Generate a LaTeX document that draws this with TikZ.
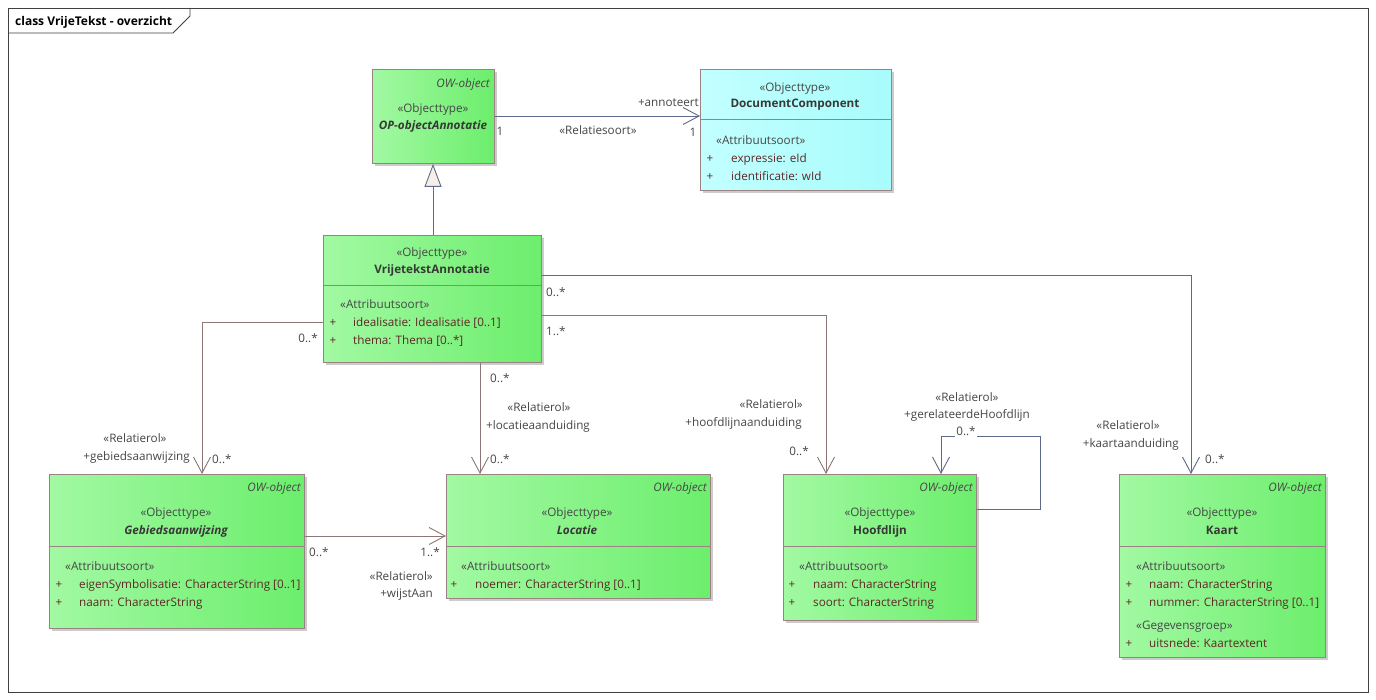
\documentclass[tikz,border=0pt]{standalone}
\usepackage{fontspec}
\setmainfont{Open Sans}
\usetikzlibrary{arrows.meta,shadows}
\definecolor{gL}{HTML}{A2F9A2}
\definecolor{gR}{HTML}{6CEE6C}
\definecolor{cyL}{HTML}{C2FFFF}
\definecolor{cyR}{HTML}{A8FCFC}
\definecolor{bord}{HTML}{9A8282}
\definecolor{linB}{HTML}{5E6A8C}
\definecolor{linR}{HTML}{8E7676}
\definecolor{txt}{HTML}{464646}
\definecolor{nameC}{HTML}{383838}
\definecolor{attrC}{HTML}{5E2828}
\definecolor{tri}{HTML}{F8EEE8}
\begin{document}
\begin{tikzpicture}[x=1pt,y=-1pt,
  font=\fontsize{11.7}{13}\selectfont,
  shadowed/.style={drop shadow={shadow xshift=3pt,shadow yshift=-3pt,fill=black!20,opacity=1}},
  box/.style={draw=bord,line width=0.9pt,left color=gL,right color=gR,anchor=north west,inner sep=0pt,shadowed},
  cbox/.style={draw=bord,line width=0.9pt,left color=cyL,right color=cyR,anchor=north west,inner sep=0pt,shadowed},
  divl/.style={draw=bord,line width=0.9pt},
  lbl/.style={inner sep=0pt,text=txt,text height=10.5pt,text depth=0pt},
  owlbl/.style={lbl,anchor=east,font=\fontsize{11.7}{13}\selectfont\itshape},
  stc/.style={lbl},
  nm/.style={lbl,text=nameC,font=\fontsize{11.7}{13}\selectfont\bfseries},
  nmi/.style={lbl,text=nameC,font=\fontsize{11.7}{13}\selectfont\bfseries\itshape},
  stl/.style={lbl,anchor=west},
  atr/.style={lbl,anchor=west,text=attrC},
  pl/.style={lbl,text=attrC},
  assB/.style={draw=linB,line width=0.9pt,-{Straight Barb[length=16pt,width=17pt]}},
  assR/.style={draw=linR,line width=0.9pt,-{Straight Barb[length=16pt,width=17pt]}},
  gen/.style={draw=linB,line width=0.9pt,-{Triangle[length=23pt,width=17pt,fill=tri]}}
]
\useasboundingbox (0,0) rectangle (1376,700);
\fill[white] (0,0) rectangle (1376,700);
% frame
\draw[black!75,line width=0.8pt] (8,8) rectangle (1368,692);
\draw[black!75,line width=0.8pt] (8,33) -- (173,33) -- (190,16) -- (190,8);
\node[lbl,text=black,anchor=west,font=\fontsize{12}{13}\selectfont\bfseries] (title) at (15,20) {class VrijeTekst - overzicht};

% ---------- boxes ----------
\node[box,minimum width=122pt,minimum height=94pt] (op) at (372,69) {};
\node[cbox,minimum width=191pt,minimum height=121pt] (dc) at (700,69) {};
\node[box,minimum width=218pt,minimum height=127pt] (va) at (323,235) {};
\node[box,minimum width=255pt,minimum height=154pt] (geb) at (49,474) {};
\node[box,minimum width=264pt,minimum height=124pt] (loc) at (446,474) {};
\node[box,minimum width=193pt,minimum height=146pt] (hl) at (783,474) {};
\node[box,minimum width=206pt,minimum height=183pt] (ka) at (1119,474) {};

% dividers
\draw[divl] (dc.west |- 0,119) -- (dc.east |- 0,119);
\draw[divl] (va.west |- 0,285) -- (va.east |- 0,285);
\draw[divl] (geb.west |- 0,546) -- (geb.east |- 0,546);
\draw[divl] (loc.west |- 0,546) -- (loc.east |- 0,546);
\draw[divl] (hl.west |- 0,546) -- (hl.east |- 0,546);
\draw[divl] (ka.west |- 0,546) -- (ka.east |- 0,546);

% ---------- OP-objectAnnotatie ----------
\node[owlbl] (op-ow) at (490,82) {OW-object};
\node[stc] (op-st) at (433,107) {«Objecttype»};
\node[nmi] (op-nm) at (433,124) {OP-objectAnnotatie};

% ---------- DocumentComponent ----------
\node[stc] (dc-st) at (795,86) {«Objecttype»};
\node[nm] (dc-nm) at (795,102) {DocumentComponent};
\node[stl] (dc-as) at (716,139) {«Attribuutsoort»};
\node[pl] (dc-p1) at (710,157) {+};
\node[atr] (dc-a1) at (731,157) {expressie: eId};
\node[pl] (dc-p2) at (710,175) {+};
\node[atr] (dc-a2) at (731,175) {identificatie: wId};

% ---------- VrijetekstAnnotatie ----------
\node[stc] (va-st) at (432,251) {«Objecttype»};
\node[nm] (va-nm) at (432,268) {VrijetekstAnnotatie};
\node[stl] (va-as) at (340,303) {«Attribuutsoort»};
\node[pl] (va-p1) at (333,321) {+};
\node[atr] (va-a1) at (353,321) {idealisatie: Idealisatie [0..1]};
\node[pl] (va-p2) at (333,339) {+};
\node[atr] (va-a2) at (353,339) {thema: Thema [0..*]};

% ---------- Gebiedsaanwijzing ----------
\node[owlbl] (geb-ow) at (301,486) {OW-object};
\node[stc] (geb-st) at (176,511) {«Objecttype»};
\node[nmi] (geb-nm) at (176,529) {Gebiedsaanwijzing};
\node[stl] (geb-as) at (65,565) {«Attribuutsoort»};
\node[pl] (geb-p1) at (59,583) {+};
\node[atr] (geb-a1) at (79,583) {eigenSymbolisatie: CharacterString [0..1]};
\node[pl] (geb-p2) at (59,601) {+};
\node[atr] (geb-a2) at (79,601) {naam: CharacterString};

% ---------- Locatie ----------
\node[owlbl] (loc-ow) at (707,486) {OW-object};
\node[stc] (loc-st) at (577,511) {«Objecttype»};
\node[nmi] (loc-nm) at (577,529) {Locatie};
\node[stl] (loc-as) at (461,565) {«Attribuutsoort»};
\node[pl] (loc-p1) at (454,583) {+};
\node[atr] (loc-a1) at (475,583) {noemer: CharacterString [0..1]};

% ---------- Hoofdlijn ----------
\node[owlbl] (hl-ow) at (973,486) {OW-object};
\node[stc] (hl-st) at (880,511) {«Objecttype»};
\node[nm] (hl-nm) at (880,529) {Hoofdlijn};
\node[stl] (hl-as) at (799,565) {«Attribuutsoort»};
\node[pl] (hl-p1) at (792,583) {+};
\node[atr] (hl-a1) at (813,583) {naam: CharacterString};
\node[pl] (hl-p2) at (792,601) {+};
\node[atr] (hl-a2) at (813,601) {soort: CharacterString};

% ---------- Kaart ----------
\node[owlbl] (ka-ow) at (1322,486) {OW-object};
\node[stc] (ka-st) at (1222,511) {«Objecttype»};
\node[nm] (ka-nm) at (1222,529) {Kaart};
\node[stl] (ka-as) at (1136,565) {«Attribuutsoort»};
\node[pl] (ka-p1) at (1129,583) {+};
\node[atr] (ka-a1) at (1149,583) {naam: CharacterString};
\node[pl] (ka-p2) at (1129,601) {+};
\node[atr] (ka-a2) at (1149,601) {nummer: CharacterString [0..1]};
\node[stl] (ka-gg) at (1136,624) {«Gegevensgroep»};
\node[pl] (ka-p3) at (1129,642) {+};
\node[atr] (ka-a3) at (1149,642) {uitsnede: Kaartextent};

% ---------- connectors ----------
\draw[assB] (op.east |- 0,116) -- (dc.west |- 0,116);
\draw[gen] (va.north -| 433,0) -- (op.south -| 433,0);
\draw[assR] (va.west |- 0,322) -| (geb.north -| 202,0);
\draw[assR] (va.south -| 480,0) -- (loc.north -| 480,0);
\draw[assR] (va.east |- 0,315) -| (hl.north -| 826,0);
\draw[assB] (va.east |- 0,275) -| (ka.north -| 1191,0);
\coordinate (loopA) at (1040,436);
\draw[assB] (hl.east |- 0,509) -| (loopA) -| (hl.north -| 941,0);
\draw[assR] (geb.east |- 0,536) -- (loc.west |- 0,536);

% ---------- connector labels ----------
\node[lbl,anchor=east] (l-ann) at (699,101) {+annoteert};
\node[lbl] (l-rs) at (598,129) {«Relatiesoort»};
\node[lbl] (l-op1) at (500,130) {1};
\node[lbl] (l-dc1) at (693,131) {1};

\node[lbl,anchor=east] (l-vg) at (318,337) {0..*};
\node[lbl] (l-gr) at (135,437) {«Relatierol»};
\node[lbl,anchor=east] (l-gn) at (190,455) {+gebiedsaanwijzing};
\node[lbl,anchor=west] (l-gm) at (212,458) {0..*};

\node[lbl,anchor=west] (l-vl) at (490,377) {0..*};
\node[lbl] (l-lr) at (539,406) {«Relatierol»};
\node[lbl,anchor=west] (l-ln) at (486,424) {+locatieaanduiding};
\node[lbl,anchor=west] (l-lm) at (490,458) {0..*};

\node[lbl,anchor=west] (l-vk) at (546,291) {0..*};
\node[lbl,anchor=west] (l-vh) at (546,330) {1..*};
\node[lbl,anchor=east] (l-hr) at (803,403) {«Relatierol»};
\node[lbl,anchor=east] (l-hn) at (802,421) {+hoofdlijnaanduiding};
\node[lbl,anchor=east] (l-hm) at (809,450) {0..*};

\node[lbl] (l-sr) at (967,396) {«Relatierol»};
\node[lbl] (l-sn) at (967,413) {+gerelateerdeHoofdlijn};
\node[lbl,fill=white,inner xsep=1pt,text height=9pt,text depth=1.5pt] (l-sm) at (966,432) {0..*};

\node[lbl] (l-kr) at (1128,424) {«Relatierol»};
\node[lbl,anchor=east] (l-kn) at (1179,442) {+kaartaanduiding};
\node[lbl,anchor=west] (l-km) at (1205,458) {0..*};

\node[lbl,anchor=west] (l-gl) at (309,551) {0..*};
\node[lbl,anchor=east] (l-lg) at (440,551) {1..*};
\node[lbl,anchor=east] (l-wr) at (433,575) {«Relatierol»};
\node[lbl,anchor=east] (l-wn) at (433,592) {+wijstAan};
\end{tikzpicture}
\end{document}
